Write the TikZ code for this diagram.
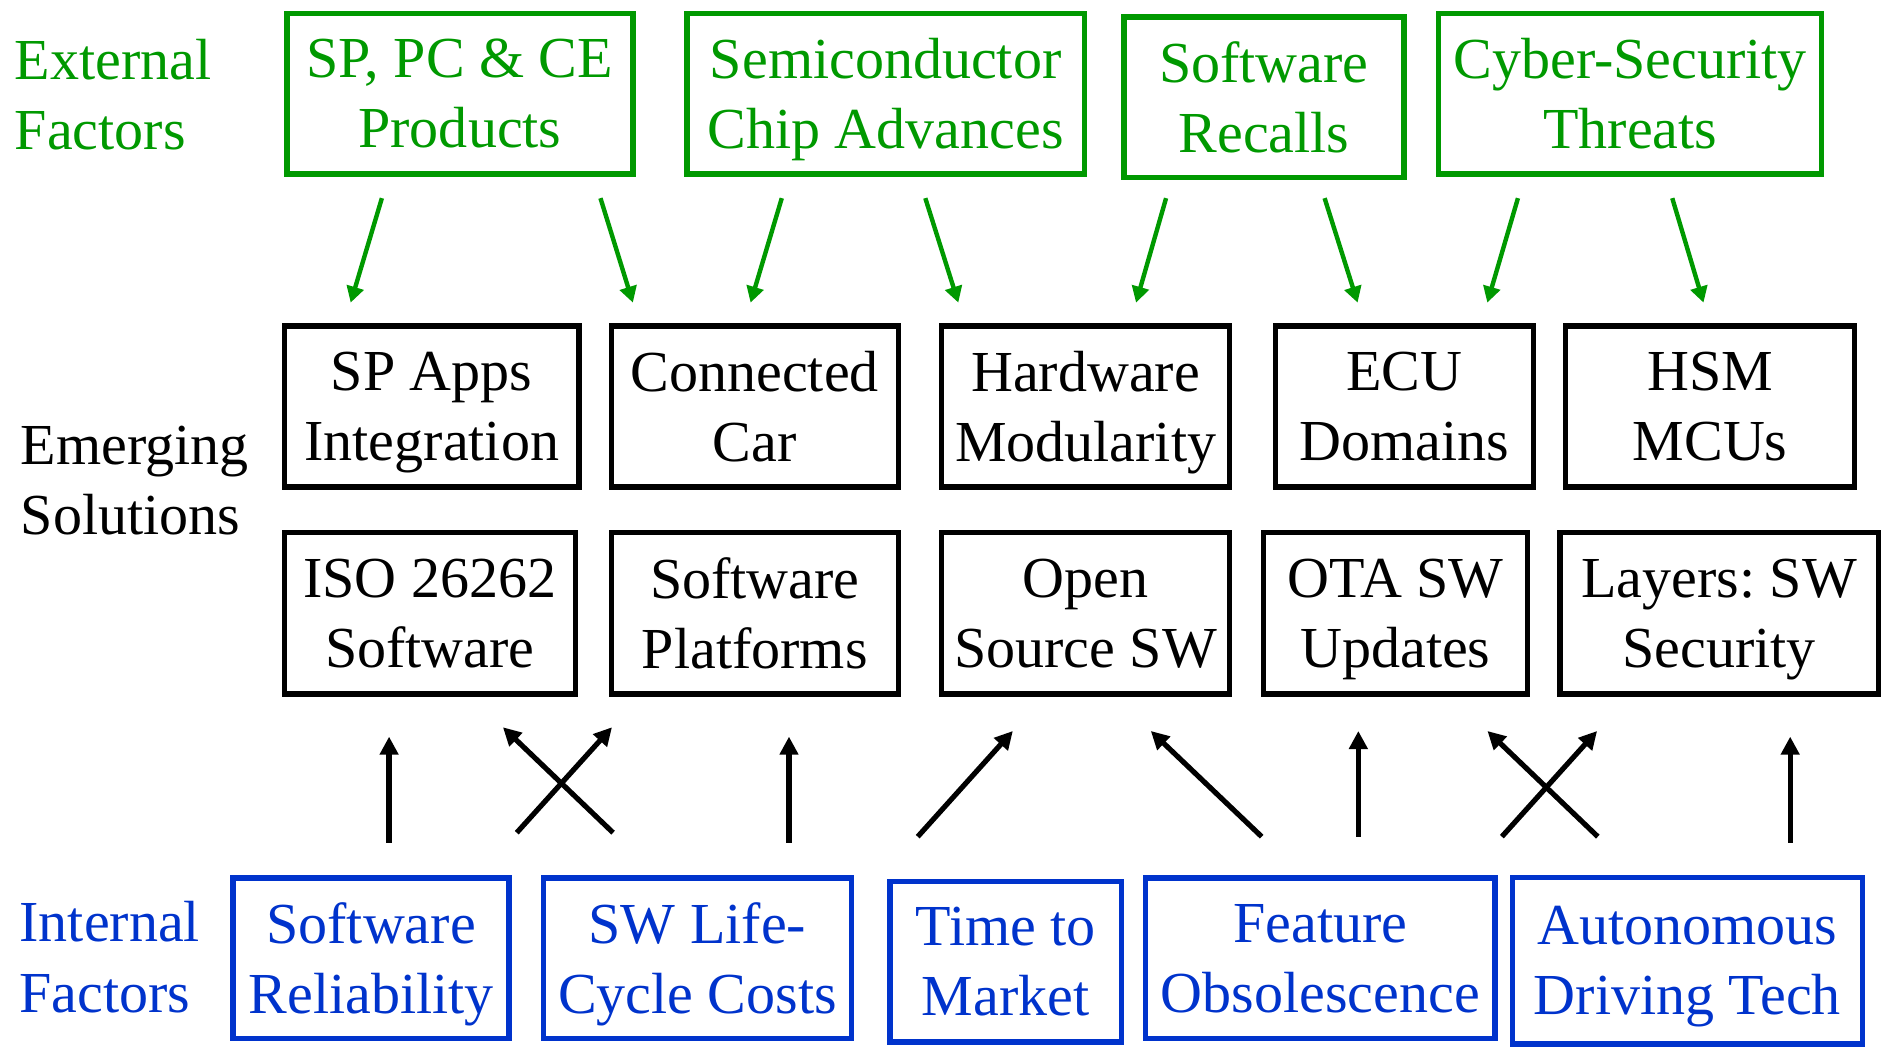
\documentclass[tikz,border=0pt]{standalone}
\usepackage{fontspec}
\setmainfont{Liberation Serif}
\usetikzlibrary{arrows.meta}
\definecolor{fgreen}{RGB}{0,153,0}
\definecolor{fblue}{RGB}{0,51,204}
\begin{document}
\frenchspacing
\begin{tikzpicture}[x=0.6pt,y=-0.6pt,
  every node/.style={font=\fontsize{29}{35}\selectfont\frenchspacing, inner sep=0pt, align=center},
  wh/.style 2 args={minimum width=#1*0.6pt, minimum height=#2*0.6pt},
  gbox/.style={draw=fgreen, text=fgreen, line width=2.7pt, text depth=0pt},
  kbox/.style={draw=black, line width=2.7pt, text depth=0pt},
  bbox/.style={draw=fblue, text=fblue, line width=2.7pt, text depth=0pt},
  garrow/.style={draw=fgreen, line width=2.2pt, -{Triangle[width=8.5pt,length=8pt]}},
  karrow/.style={draw=black, line width=2.6pt, -{Triangle[width=9pt,length=9pt]}}
]
\fill[white] (0,0) rectangle (1568,876);
\useasboundingbox (0,0) rectangle (1568,876);

% left labels
\node[text=fgreen, align=left, anchor=west] (lext) at (12,79) {External\\Factors};
\node[text=black, align=left, anchor=west] (lemg) at (17,400) {Emerging\\Solutions};
\node[text=fblue, align=left, anchor=west] (lint) at (16,797) {Internal\\Factors};

% external factors
\node[gbox, wh={288}{134}] (g1) at (383,78) {SP, PC \& CE\\Products};
\node[gbox, wh={331}{134}] (g2) at (737.5,78) {Semiconductor\\Chip Advances};
\node[gbox, wh={233}{134}] (g3) at (1052.5,81) {Software\\Recalls};
\node[gbox, wh={319}{134}] (g4) at (1357.5,78) {Cyber-Security\\Threats};

% emerging solutions, row 1
\node[kbox, wh={245}{134}] (k1) at (359.5,338.6) {SP Apps\\Integration};
\node[kbox, wh={239}{134}] (k2) at (628.5,338.6) {Connected\\Car};
\node[kbox, wh={240}{134}] (k3) at (904,338.6) {Hardware\\Modularity};
\node[kbox, wh={215}{134}] (k4) at (1169.5,338.6) {ECU\\Domains};
\node[kbox, wh={240.5}{134}] (k5) at (1424,338.6) {HSM\\MCUs};
% row 2
\node[kbox, wh={242.5}{134.5}] (k6) at (358,510.8) {ISO 26262\\Software};
\node[kbox, wh={239}{134.5}] (k7) at (628.5,510.8) {Software\\Platforms};
\node[kbox, wh={240}{134.5}] (k8) at (904,510.8) {Open\\Source SW};
\node[kbox, wh={220}{134.5}] (k9) at (1162,510.8) {OTA SW\\Updates};
\node[kbox, wh={265}{134.5}] (k10) at (1431.5,510.8) {Layers: SW\\Security};

% internal factors
\node[bbox, wh={230}{134}] (b1) at (309,798) {Software\\Reliability};
\node[bbox, wh={256.5}{134}] (b2) at (580.8,798) {SW Life-\\Cycle Costs};
\node[bbox, wh={193}{133.5}] (b3) at (837.5,800.8) {Time to\\Market};
\node[bbox, wh={291}{134}] (b4) at (1099.5,798) {Feature\\Obsolescence};
\node[bbox, wh={291.5}{138.5}] (b5) at (1405,800) {Autonomous\\Driving Tech};

% green arrow ends
\coordinate (gs1) at (318,165);    \coordinate (ge1) at (292,252);
\coordinate (gs2) at (500,165);    \coordinate (ge2) at (527,252);
\coordinate (gs3) at (651,165);    \coordinate (ge3) at (625,252);
\coordinate (gs4) at (770.5,165);  \coordinate (ge4) at (798,252);
\coordinate (gs5) at (971,165);    \coordinate (ge5) at (946,252);
\coordinate (gs6) at (1103,165);   \coordinate (ge6) at (1130.5,252);
\coordinate (gs7) at (1264,165);   \coordinate (ge7) at (1238.5,252);
\coordinate (gs8) at (1392.5,165); \coordinate (ge8) at (1418.5,252);
\foreach \i in {1,...,8} \draw[garrow] (gs\i) -- (ge\i);

% black arrow ends
\coordinate (ks1) at (324,701.7);     \coordinate (ke1) at (324,613.4);
\coordinate (ks2) at (510.5,693.4);   \coordinate (ke2) at (418.8,605.6);
\coordinate (ks3) at (430.3,693.4);   \coordinate (ke3) at (509.6,605.6);
\coordinate (ks4) at (657,701.7);     \coordinate (ke4) at (657,613.4);
\coordinate (ks5) at (764.2,696.7);   \coordinate (ke5) at (843.4,608.7);
\coordinate (ks6) at (1050.6,696.7);  \coordinate (ke6) at (958.3,608.7);
\coordinate (ks7) at (1131.1,696.7);  \coordinate (ke7) at (1131.1,608.7);
\coordinate (ks8) at (1330.5,696.7);  \coordinate (ke8) at (1238.6,608.7);
\coordinate (ks9) at (1250.6,696.7);  \coordinate (ke9) at (1329.9,608.7);
\coordinate (ks10) at (1490.7,701.7); \coordinate (ke10) at (1490.7,613.4);
\foreach \i in {1,...,10} \draw[karrow] (ks\i) -- (ke\i);
\end{tikzpicture}
\end{document}
